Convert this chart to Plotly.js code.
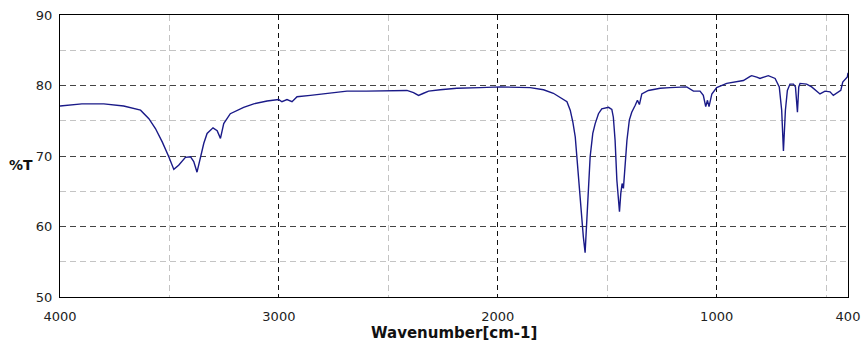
<!DOCTYPE html>
<html>
<head>
<meta charset="utf-8">
<script src="https://cdn.plot.ly/plotly-3.0.1.min.js"></script>
<style>html,body{margin:0;padding:0;background:#fff;}#chart{width:864px;height:347px;}</style>
</head>
<body>
<div id="chart"></div>
<script>
// Wavenumber (cm-1) and transmittance (%T)
const wavenumber = [
  4000, 3950, 3900, 3800, 3709, 3632, 3594, 3564, 3533, 3503,
  3480, 3458, 3427, 3404, 3389, 3374, 3359, 3343, 3328, 3301,
  3282, 3267, 3252, 3222, 3161, 3115, 3054, 3001, 2986, 2963,
  2940, 2917, 2856, 2780, 2689, 2600, 2506, 2415, 2385, 2362,
  2339, 2316, 2263, 2187, 2080, 1989, 1852, 1791, 1746, 1715,
  1684, 1669, 1657, 1646, 1636, 1624, 1616, 1609, 1601, 1593,
  1586, 1578, 1566, 1555, 1540, 1525, 1494, 1479, 1472, 1464,
  1456, 1451, 1444, 1438, 1432, 1426, 1418, 1410, 1399, 1388,
  1372, 1362, 1353, 1342, 1312, 1258, 1213, 1137, 1106, 1076,
  1061, 1050, 1042, 1035, 1022, 1000, 954, 908, 878, 847,
  840, 817, 802, 764, 733, 714, 703, 695, 686, 677,
  665, 649, 640, 631, 625, 619, 589, 566, 543, 528,
  505, 482, 467, 449, 433, 424, 414, 403, 400
];
const transmittance = [
  77.1, 77.3, 77.4, 77.4, 77.1, 76.5, 75.3, 73.9, 72.0, 69.9,
  68.1, 68.7, 69.8, 69.9, 69.2, 67.7, 69.6, 71.8, 73.2, 74.0,
  73.6, 72.5, 74.6, 76.0, 76.9, 77.4, 77.8, 78.0, 77.7, 78.0,
  77.7, 78.4, 78.6, 78.9, 79.2, 79.2, 79.2, 79.3, 79.0, 78.6,
  78.9, 79.2, 79.4, 79.6, 79.7, 79.8, 79.7, 79.4, 78.9, 78.3,
  77.7, 76.5, 74.8, 72.7, 68.7, 63.3, 60.0, 58.5, 56.3, 60.9,
  66.6, 69.9, 73.2, 74.6, 76.0, 76.7, 76.9, 76.6, 75.5, 72.2,
  66.6, 64.2, 62.1, 64.7, 66.1, 65.4, 68.5, 72.2, 75.1, 76.2,
  77.2, 77.9, 77.3, 78.8, 79.3, 79.6, 79.7, 79.8, 79.2, 79.2,
  78.6, 77.0, 77.9, 77.0, 78.8, 79.7, 80.3, 80.6, 80.7, 81.3,
  81.4, 81.2, 81.0, 81.4, 81.0, 79.8, 76.5, 70.7, 76.5, 79.3,
  80.2, 80.2, 79.8, 76.2, 79.8, 80.3, 80.2, 79.8, 79.2, 78.8,
  79.2, 79.1, 78.6, 79.0, 79.3, 80.5, 80.8, 81.2, 81.8
];
const xTickVals = [4000, 3000, 2000, 1000, 400];
const xTickText = ['4000', '3000', '2000', '1000', '400'];
const xMinorGrid = [3500, 2500, 1500, 500];
const yTickVals = [50, 60, 70, 80, 90];
const yMinorGrid = [55, 65, 75, 85];

const font = {family: 'DejaVu Sans, Verdana, sans-serif', size: 13, color: '#222'};

const trace = {
  x: wavenumber, y: transmittance, type: 'scatter', mode: 'lines',
  line: {color: '#1a1a88', width: 1.4}, hoverinfo: 'skip'
};

const layout = {
  width: 864, height: 347,
  margin: {l: 60, r: 16, t: 15, b: 50, pad: 0},
  paper_bgcolor: '#fff', plot_bgcolor: '#fff',
  showlegend: false,
  font: font,
  xaxis: {
    range: [4000, 400], tickmode: 'array', tickvals: xTickVals, ticktext: xTickText,
    ticks: '', ticklabelstandoff: 7,
    showgrid: true, gridcolor: '#111', gridwidth: 1, griddash: '5px,4px',
    showline: true, linecolor: '#000', linewidth: 1, mirror: true, zeroline: false,
    minor: {tickmode: 'array', tickvals: xMinorGrid, showgrid: true, gridcolor: '#c4c4c4', gridwidth: 1, griddash: '6px,4px', ticks: ''},
    tickfont: font
  },
  yaxis: {
    range: [50, 90], tickmode: 'array', tickvals: yTickVals,
    ticks: '', ticklabelstandoff: 4,
    showgrid: true, gridcolor: '#444', gridwidth: 1, griddash: '6px,4px',
    showline: true, linecolor: '#000', linewidth: 1, mirror: true, zeroline: false,
    minor: {tickmode: 'array', tickvals: yMinorGrid, showgrid: true, gridcolor: '#c4c4c4', gridwidth: 1, griddash: '6px,4px', ticks: ''},
    tickfont: font
  },
  annotations: [
    {text: '<b>Wavenumber[cm-1]</b>', xref: 'paper', yref: 'paper', x: 0.5, y: -0.128,
     xanchor: 'center', yanchor: 'middle', showarrow: false,
     font: {family: 'DejaVu Sans, Verdana, sans-serif', size: 15, color: '#111'}},
    {text: '<b>%T</b>', xref: 'paper', yref: 'paper', x: -0.0495, y: 0.467,
     xanchor: 'center', yanchor: 'middle', showarrow: false,
     font: {family: 'DejaVu Sans, Verdana, sans-serif', size: 14, color: '#111'}}
  ]
};

Plotly.newPlot('chart', [trace], layout, {staticPlot: true, displayModeBar: false});
</script>
</body>
</html>
